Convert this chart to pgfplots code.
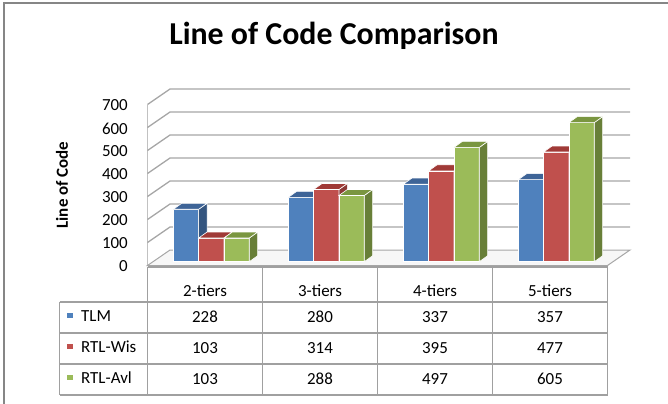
\documentclass[border=0pt]{standalone}
\usepackage{fontspec}
\setmainfont{Carlito}
\usepackage{pgfplots}
\usepackage{pgfplotstable}
\pgfplotsset{compat=1.18}

\definecolor{tlmF}{HTML}{4F81BD}\definecolor{tlmS}{HTML}{34557F}\definecolor{tlmT}{HTML}{3E6497}
\definecolor{wisF}{HTML}{C0504D}\definecolor{wisS}{HTML}{8C3836}\definecolor{wisT}{HTML}{A03A37}
\definecolor{avlF}{HTML}{9BBB59}\definecolor{avlS}{HTML}{687F38}\definecolor{avlT}{HTML}{7A9640}
\definecolor{gridc}{HTML}{A6A6A6}
\definecolor{framec}{HTML}{868686}
\definecolor{tabc}{HTML}{A0A0A0}

\pgfplotstableread{
cat tlm wis avl
0 228 103 103
1 280 314 288
2 337 395 497
3 357 477 605
}\loctable

\newcommand\drawbar[5]{%
  \pgfmathsetmacro\xa{#1}%
  \pgfmathsetmacro\xb{#1+0.22}%
  \pgfmathsetmacro\xc{#1+0.073}%
  \pgfmathsetmacro\xd{#1+0.22+0.073}%
  \pgfmathsetmacro\yb{16.5}%
  \pgfmathsetmacro\yt{16.5+#2}%
  \pgfmathsetmacro\ybb{16.5+26.1}%
  \pgfmathsetmacro\ytt{16.5+#2+26.1}%
  \edef\doit{%
    \noexpand\addplot[draw=white, line width=0.6bp, fill=#3] coordinates {(\xa,\yb) (\xb,\yb) (\xb,\yt) (\xa,\yt)} -- cycle;
    \noexpand\addplot[draw=white, line width=0.6bp, fill=#4] coordinates {(\xb,\yb) (\xd,\ybb) (\xd,\ytt) (\xb,\yt)} -- cycle;
    \noexpand\addplot[draw=white, line width=0.6bp, fill=#5] coordinates {(\xa,\yt) (\xc,\ytt) (\xd,\ytt) (\xb,\yt)} -- cycle;
  }%
  \doit
}

\newcommand\tfont{\fontsize{17}{17}\selectfont}

\begin{document}
\begin{tikzpicture}
\useasboundingbox (0,0) rectangle (668bp,-404bp);
\draw[framec, line width=1.5bp] (4bp,-404bp) -- (4bp,-3bp) -- (668bp,-3bp);

\begin{axis}[
  at={(147.5bp,-265.5bp)}, anchor=south west,
  scale only axis, width=460bp, height=161bp,
  xmin=-0.5, xmax=3.5, ymin=0, ymax=700,
  clip=false,
  axis x line=none,
  axis y line*=left,
  y axis line style={draw=none},
  xtick=\empty,
  ytick={0,100,...,700},
  major tick length=0pt,
  /pgf/number format/assume math mode=true,
  yticklabel style={font=\tfont, inner sep=0pt, anchor=east, xshift=-19.5bp, yshift=-1bp},
  ylabel={Line of Code},
  every axis y label/.style={at={(axis description cs:-0.1859,0.5)}, rotate=90, anchor=center, font=\fontsize{17}{17}\selectfont\bfseries},
  title={Line of Code Comparison},
  title style={at={(axis description cs:0.4054,1)}, anchor=base, yshift=54.5bp, font=\fontsize{32}{32}\selectfont\bfseries},
]
% left wall front edge
\draw[gridc!70, line width=0.8bp] (axis cs:-0.5,0) -- (axis cs:-0.5,700);
% gridlines on left wall and back wall
\draw[gridc, line width=1.3bp] (axis cs:-0.5,100) -- (axis cs:-0.3043,167.4) -- (axis cs:3.6957,167.4);
\draw[gridc, line width=1.3bp] (axis cs:-0.5,200) -- (axis cs:-0.3043,267.4) -- (axis cs:3.6957,267.4);
\draw[gridc, line width=1.3bp] (axis cs:-0.5,300) -- (axis cs:-0.3043,367.4) -- (axis cs:3.6957,367.4);
\draw[gridc, line width=1.3bp] (axis cs:-0.5,400) -- (axis cs:-0.3043,467.4) -- (axis cs:3.6957,467.4);
\draw[gridc, line width=1.3bp] (axis cs:-0.5,500) -- (axis cs:-0.3043,567.4) -- (axis cs:3.6957,567.4);
\draw[gridc, line width=1.3bp] (axis cs:-0.5,600) -- (axis cs:-0.3043,667.4) -- (axis cs:3.6957,667.4);
\draw[gridc, line width=1.3bp] (axis cs:-0.5,700) -- (axis cs:-0.3043,767.4) -- (axis cs:3.6957,767.4);
% floor
\fill[gray!6] (axis cs:-0.5,0) -- (axis cs:-0.3043,67.4) -- (axis cs:3.6957,67.4) -- (axis cs:3.5,0) -- cycle;
\draw[gridc, line width=1bp] (axis cs:-0.5,0) -- (axis cs:-0.3043,67.4) -- (axis cs:3.6957,67.4) -- (axis cs:3.5,0) -- cycle;

\pgfplotsforeachungrouped \i in {0,1,2,3}{%
  \pgfplotstablegetelem{\i}{tlm}\of\loctable \let\vT\pgfplotsretval
  \pgfplotstablegetelem{\i}{wis}\of\loctable \let\vW\pgfplotsretval
  \pgfplotstablegetelem{\i}{avl}\of\loctable \let\vA\pgfplotsretval
  \pgfmathsetmacro\xT{\i-0.275}%
  \pgfmathsetmacro\xW{\i-0.055}%
  \pgfmathsetmacro\xA{\i+0.165}%
  \drawbar{\xT}{\vT}{tlmF}{tlmS}{tlmT}%
  \drawbar{\xW}{\vW}{wisF}{wisS}{wisT}%
  \drawbar{\xA}{\vA}{avlF}{avlS}{avlT}%
}
\end{axis}

% data table
\begin{scope}[tabc, line width=1.2bp]
\draw (147.5bp,-267bp) -- (607.5bp,-267bp);
\foreach \x in {147.5,262.5,377.5,492.5,607.5}{\draw (\x bp,-267bp) -- (\x bp,-395bp);}
\draw (59.5bp,-302bp) -- (59.5bp,-395bp);
\foreach \y in {302,333,364,395}{\draw (59.5bp,-\y bp) -- (607.5bp,-\y bp);}
\end{scope}
\foreach \x/\t in {205/2-tiers,320/3-tiers,435/4-tiers,550/5-tiers}{\node[font=\tfont, inner sep=0pt] at (\x bp,-291bp) {\t};}
\foreach \x/\a/\b/\c in {205/228/103/103,320/280/314/288,435/337/395/497,550/357/477/605}{
  \node[font=\tfont, inner sep=0pt] at (\x bp,-317bp) {\a};
  \node[font=\tfont, inner sep=0pt] at (\x bp,-348bp) {\b};
  \node[font=\tfont, inner sep=0pt] at (\x bp,-379bp) {\c};
}
\fill[tlmF] (67bp,-312.5bp) rectangle (72.5bp,-318bp);
\fill[wisF] (67bp,-343.5bp) rectangle (72.5bp,-349bp);
\fill[avlF] (67bp,-374.5bp) rectangle (72.5bp,-380bp);
\node[font=\tfont, inner sep=0pt, anchor=west] at (81bp,-316bp) {TLM};
\node[font=\tfont, inner sep=0pt, anchor=west] at (81bp,-347bp) {RTL-Wis};
\node[font=\tfont, inner sep=0pt, anchor=west] at (81bp,-378bp) {RTL-Avl};
\end{tikzpicture}
\end{document}
